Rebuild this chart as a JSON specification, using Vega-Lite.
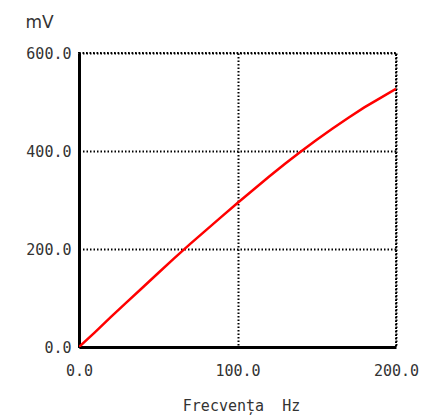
{
  "$schema": "https://vega.github.io/schema/vega-lite/v6.json",
  "autosize": "none",
  "width": 317,
  "height": 294,
  "padding": {"left": 79, "top": 53, "right": 44, "bottom": 71},
  "background": "white",
  "data": {
    "values": [
      {"f": 0, "mv": 0}, {"f": 10, "mv": 30}, {"f": 20, "mv": 61}, {"f": 30, "mv": 91},
      {"f": 40, "mv": 121}, {"f": 50, "mv": 151}, {"f": 60, "mv": 181}, {"f": 70, "mv": 210},
      {"f": 80, "mv": 238}, {"f": 90, "mv": 266}, {"f": 100, "mv": 294}, {"f": 110, "mv": 321},
      {"f": 120, "mv": 348}, {"f": 130, "mv": 374}, {"f": 140, "mv": 399}, {"f": 150, "mv": 423},
      {"f": 160, "mv": 446}, {"f": 170, "mv": 468}, {"f": 180, "mv": 489}, {"f": 190, "mv": 508},
      {"f": 200, "mv": 527}
    ]
  },
  "mark": {"type": "line", "color": "#ff0000", "strokeWidth": 2.5, "clip": true},
  "encoding": {
    "x": {
      "field": "f", "type": "quantitative",
      "scale": {"domain": [0, 200], "nice": false, "zero": true},
      "axis": {
        "values": [0, 100, 200], "format": ".1f",
        "title": "Frecvența\u00a0\u00a0Hz", "titleX": 162, "titleY": 63,
        "titleAlign": "center", "titleBaseline": "alphabetic",
        "labelPadding": 16
      }
    },
    "y": {
      "field": "mv", "type": "quantitative",
      "scale": {"domain": [0, 600], "nice": false},
      "axis": {
        "values": [0, 200, 400, 600], "format": ".1f",
        "title": "mV", "titleAngle": 0, "titleAlign": "left", "titleBaseline": "alphabetic",
        "titleX": -54, "titleY": -26, "titleFont": "DejaVu Sans", "titleFontSize": 17,
        "labelPadding": 8
      }
    }
  },
  "config": {
    "view": {"stroke": "black", "strokeWidth": 2, "strokeDash": [1.5, 2]},
    "axis": {
      "domainColor": "black", "domainWidth": 3,
      "ticks": false,
      "grid": true, "gridColor": "black", "gridWidth": 2, "gridDash": [1.5, 2], "gridOpacity": 1,
      "labelFont": "DejaVu Sans Mono", "labelFontSize": 15, "labelColor": "#333",
      "titleFont": "DejaVu Sans Mono", "titleFontSize": 15, "titleFontWeight": "normal", "titleColor": "#333",
      "labelFlush": false, "labelOverlap": false
    }
  }
}
